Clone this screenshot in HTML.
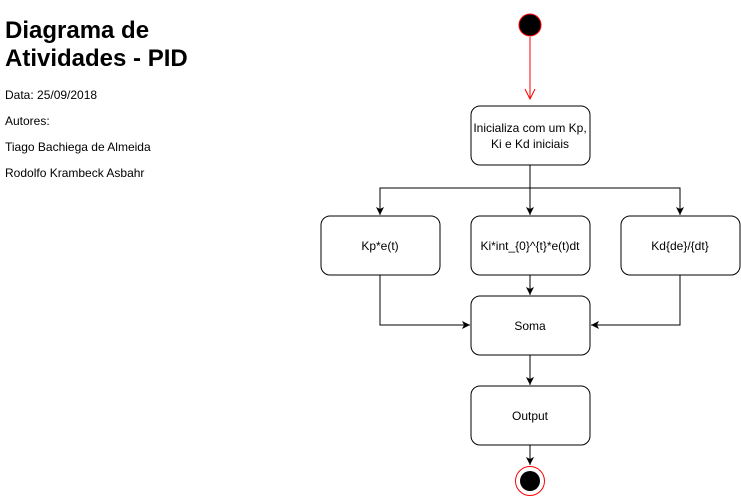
<!DOCTYPE html><html><head><style>body{margin:0;background:#fff}svg{display:block}</style></head><body>
<svg width="741" height="496" xmlns="http://www.w3.org/2000/svg" font-family="Liberation Sans, sans-serif">
<defs><marker id="a" markerWidth="10" markerHeight="10" refX="8" refY="5" orient="auto" markerUnits="userSpaceOnUse"><path d="M0,1 L8,5 L0,9 L2,5 Z" fill="#000"/></marker></defs>
<text x="5" y="38" font-size="24" font-weight="bold">Diagrama de</text>
<text x="5" y="66" font-size="24" font-weight="bold">Atividades - PID</text>
<g font-size="12" fill="#000"><text x="5" y="99">Data: 25/09/2018</text><text x="5" y="125">Autores:</text><text x="5" y="151">Tiago Bachiega de Almeida</text><text x="5" y="177">Rodolfo Krambeck Asbahr</text></g>
<circle cx="530" cy="25" r="11" fill="#000" stroke="#f00"/>
<line x1="530" y1="37" x2="530" y2="99" stroke="#f00"/><path d="M525,89 L530,99 L535,89" fill="none" stroke="#f00"/>
<g fill="#fff" stroke="#000">
<rect x="471" y="106" width="119" height="59" rx="9"/>
<rect x="321" y="216" width="119" height="59" rx="9"/>
<rect x="471" y="216" width="119" height="59" rx="9"/>
<rect x="621" y="216" width="119" height="59" rx="9"/>
<rect x="471" y="296" width="119" height="59" rx="9"/>
<rect x="471" y="386" width="119" height="59" rx="9"/>
</g>
<g stroke="#000" fill="none" marker-end="url(#a)">
<path d="M530,165 V188 H380 V215"/><path d="M530,188 H680 V215"/><path d="M530,188 V215"/>
<path d="M380,275 V325 H470"/><path d="M680,275 V325 H591"/>
<path d="M530,275 V295"/><path d="M530,355 V385"/><path d="M530,445 V465"/>
</g>
<circle cx="530" cy="481" r="14.5" fill="#fff" stroke="#f00"/><circle cx="530" cy="481" r="10" fill="#000"/>
<g font-size="12" text-anchor="middle"><text x="530" y="132">Inicializa com um Kp,</text><text x="530" y="148">Ki e Kd iniciais</text>
<text x="380" y="250">Kp*e(t)</text><text x="530" y="250">Ki*int_{0}^{t}*e(t)dt</text><text x="680" y="250">Kd{de}/{dt}</text>
<text x="530" y="330">Soma</text><text x="530" y="420">Output</text></g>
</svg></body></html>
